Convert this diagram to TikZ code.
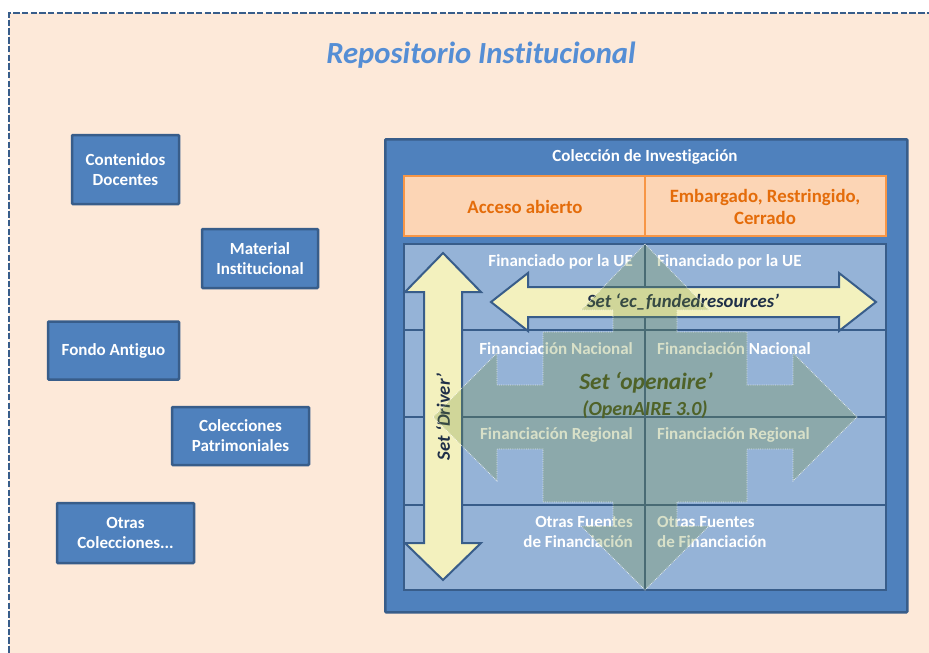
\documentclass[tikz,border=0pt]{standalone}
\usepackage{fontspec}
\setmainfont{Carlito}[Ligatures=NoCommon]
\definecolor{peach}{HTML}{FDE9D9}
\definecolor{navy}{HTML}{385D8A}
\definecolor{azul}{HTML}{4F81BD}
\definecolor{celeste}{HTML}{95B3D7}
\definecolor{naranja}{HTML}{F79646}
\definecolor{naranjaclaro}{HTML}{FCD5B5}
\definecolor{naranjatexto}{HTML}{E46C0A}
\definecolor{amarillo}{HTML}{F3F1BE}
\definecolor{oliva}{HTML}{76923C}
\definecolor{olivaosc}{HTML}{4F6228}
\definecolor{titulo}{HTML}{558ED5}
\definecolor{tinta}{HTML}{1F2F48}
\tikzset{
	coleccion/.style={draw=navy, fill=azul, line width=2.5pt, rounded corners=1pt, text=white,
		font=\fontsize{17}{20}\selectfont\bfseries, align=center, inner sep=0pt},
	acceso/.style={text=naranjatexto, font=\fontsize{18.8}{22}\selectfont\bfseries, align=center, inner sep=0pt},
	fila/.style={draw=navy, fill=celeste, line width=2.5pt},
	celda/.style={text=white, font=\fontsize{17}{20}\selectfont\bfseries, inner sep=0pt},
	flecha/.style={draw=navy, fill=amarillo, line width=2pt, line join=miter},
	setlabel/.style={text=tinta, font=\fontsize{18.7}{20}\selectfont\bfseries\itshape, inner sep=0pt}
}

\begin{document}
\begin{tikzpicture}[x=1pt,y=-1pt]
		\useasboundingbox (0,0) rectangle (929,653);
		\clip (0,0) rectangle (929,653);
		\fill[white] (0,0) rectangle (929,653);
		\fill[peach] (9,13) rectangle (945,670);
		\draw[navy, line width=2.5pt, dash pattern=on 6.5pt off 2.2pt] (9,670) -- (9,13) -- (945,13);
		\node[text=titulo, font=\fontsize{30.7}{34}\selectfont\bfseries\itshape] (repo) at (481,55) {Repositorio Institucional};
		% colecciones
		\node[coleccion, minimum width=107, minimum height=69] (docentes) at (125.5,169.5) {Contenidos\\Docentes};
		\node[coleccion, minimum width=116, minimum height=59] (material) at (260,258.5) {Material\\Institucional};
		\node[coleccion, minimum width=131, minimum height=58] (fondo) at (113.5,350.5) {Fondo Antiguo};
		\node[coleccion, minimum width=137, minimum height=58] (patrimonio) at (240.5,436) {Colecciones\\Patrimoniales};
		\node[coleccion, minimum width=137, minimum height=60] (otras) at (125.5,533) {Otras\\Colecciones...};
		\node[coleccion, minimum width=522, minimum height=473, anchor=north west] (investigacion) at (384,138) {};
		\node[celda] (tinv) at (645,157) {Colección de Investigación};
		% acceso
		\draw[naranja, fill=naranjaclaro, line width=2.5pt] (404,176) rectangle (886,236);
		\draw[naranja, line width=2.5pt] (645,176) -- (645,236);
		\node[acceso] (abierto) at (525,207) {Acceso abierto};
		\node[acceso] (cerrado) at (765,207) {Embargado, Restringido,\\Cerrado};
		% financiacion
		\foreach \a/\b in {244/330, 330/417, 417/505, 505/590} \draw[fila] (404,\a) rectangle (886,\b);
		\draw[navy, line width=2.5pt] (645,244) -- (645,590);
		\foreach \y/\t [count=\i] in {262/Financiado por la UE, 349/Financiación Nacional, 435/Financiación Regional} {
			\node[celda, anchor=east] (fi\i) at (633,\y) {\t};
			\node[celda, anchor=west] (fd\i) at (657,\y) {\t};
		}
		\node[celda, anchor=east, align=right] (fi4) at (633,532) {Otras Fuentes\\de Financiación};
		\node[celda, anchor=west, align=left] (fd4) at (657,532) {Otras Fuentes\\de Financiación};
		% sets
		\draw[flecha] (443,253) -- (481,292) -- (462,292) -- (462,543) -- (481,543) -- (443,580) -- (405,543) -- (424,543) -- (424,292) -- (405,292) -- cycle;
		\node[setlabel, rotate=90] (driver) at (443,417) {Set ‘Driver’};
		\draw[flecha] (491,302) -- (528,273) -- (528,287) -- (839,287) -- (839,273) -- (876,302) -- (839,331) -- (839,317) -- (528,317) -- (528,331) -- cycle;
		\node[setlabel] (funded) at (683,302) {Set ‘ec\_fundedresources’};
		\draw[fill=oliva, fill opacity=0.28, draw=white, draw opacity=0.7, densely dotted, line width=0.8pt]
			(645,244) -- (709,310) -- (677,310) -- (677,332) -- (747,332) -- (747,385) -- (793,385) -- (793,353)
			-- (857,417) -- (793,481) -- (793,449) -- (747,449) -- (747,502) -- (677,502) -- (677,526) -- (709,526)
			-- (645,590) -- (581,526) -- (613,526) -- (613,502) -- (543,502) -- (543,449) -- (497,449) -- (497,481)
			-- (433,417) -- (497,353) -- (497,385) -- (543,385) -- (543,332) -- (613,332) -- (613,310) -- (581,310) -- cycle;
		\node[text=olivaosc, font=\fontsize{23.4}{26}\selectfont\bfseries\itshape] (openaire) at (646,383) {Set ‘openaire’};
		\node[text=olivaosc, font=\fontsize{20}{22}\selectfont\bfseries\itshape] (version) at (645,410) {(OpenAIRE 3.0)};
	\end{tikzpicture}
\end{document}
